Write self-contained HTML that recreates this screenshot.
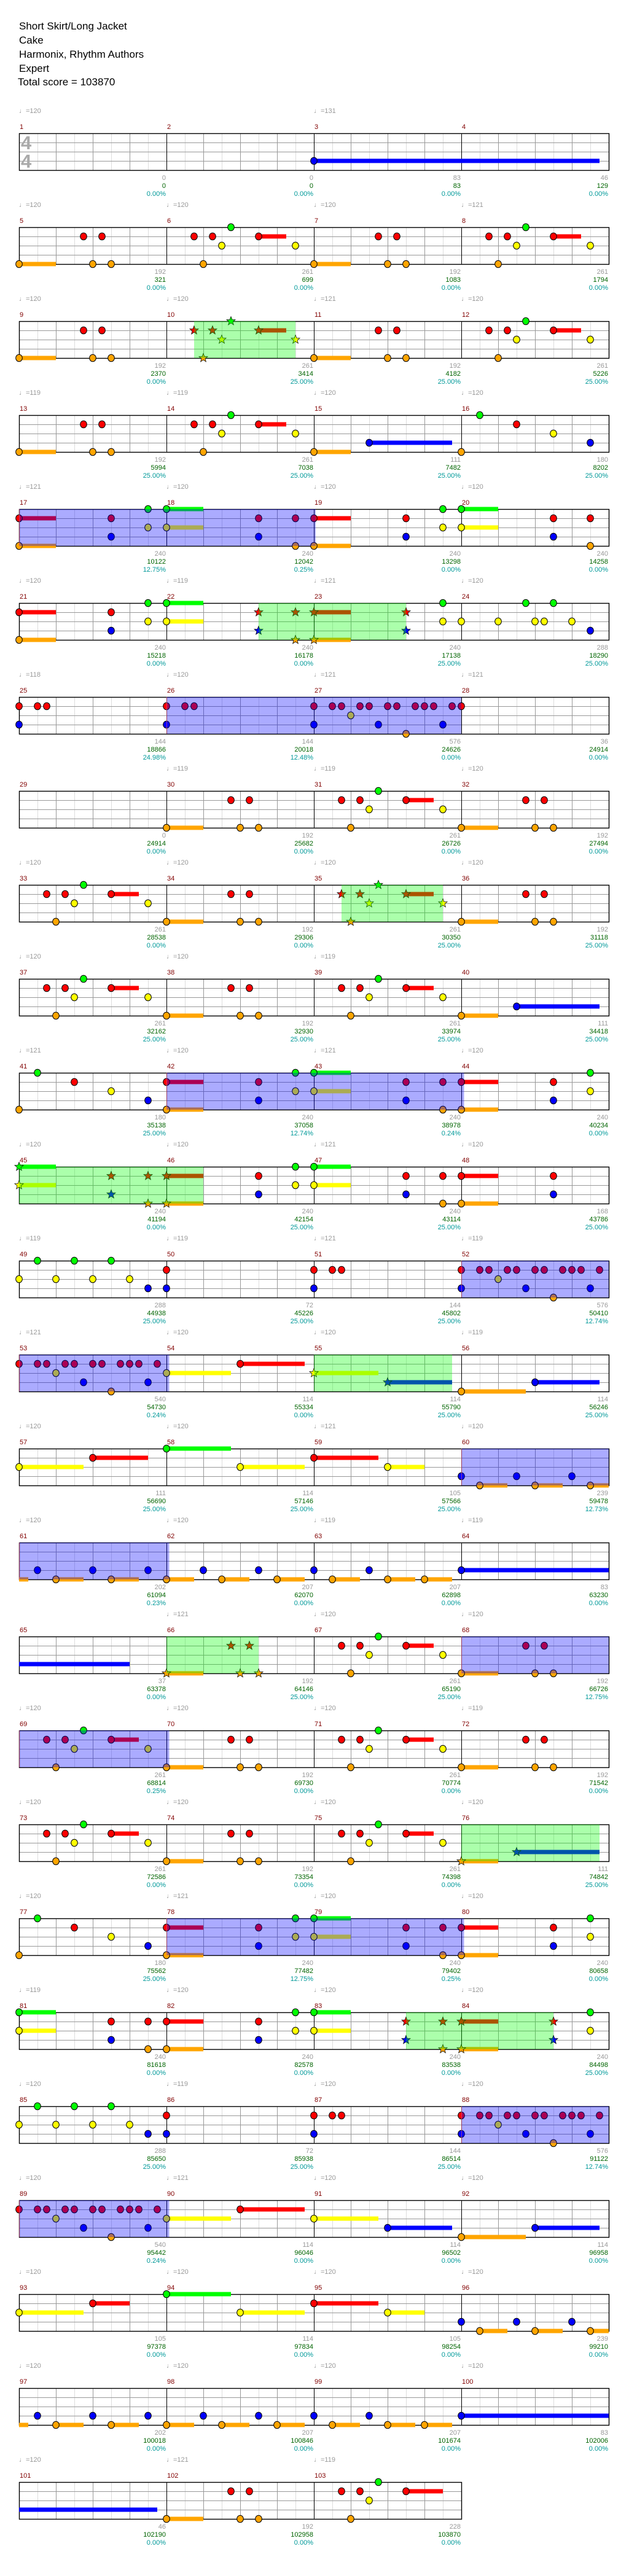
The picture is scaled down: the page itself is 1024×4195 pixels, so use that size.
<!DOCTYPE html>
<html><head><meta charset="utf-8">
<style>
html,body{margin:0;padding:0;background:#fff;}
svg{display:block;}
text{font-family:"Liberation Sans","DejaVu Sans",sans-serif;}
.ti{font-size:17px;fill:#000;}
.n{font-size:11px;fill:#800000;}
.t{font-size:11px;fill:#999;}
.a{font-size:11px;fill:#999;text-anchor:end;}
.s{font-size:11px;fill:#006400;text-anchor:end;}
.p{font-size:11px;fill:#009999;text-anchor:end;}
.ts{font-size:31px;font-weight:bold;fill:#aaa;}
</style></head>
<body>
<svg id="sv" xmlns="http://www.w3.org/2000/svg" width="1024" height="4195" viewBox="0 0 1024 4195">
<rect width="1024" height="4195" fill="#fff"/>
<g id="grid"></g><g id="bars"></g><g id="notes"></g><g id="ovl"></g>
<text class="ti" x="31" y="48">Short Skirt/Long Jacket</text>
<text class="ti" x="31" y="71">Cake</text>
<text class="ti" x="31" y="94">Harmonix, Rhythm Authors</text>
<text class="ti" x="31" y="117">Expert</text>
<text class="ti" x="29" y="139">Total score = 103870</text>
<text class="ts" x="34" y="243">4</text><text class="ts" x="34" y="273">4</text>

<g transform="translate(0,217)"><text class="n" x="32" y="-7">1</text><text class="n" x="272" y="-7">2</text><text class="n" x="512" y="-7">3</text><text class="n" x="752" y="-7">4</text>
<text class="t" x="31" y="-33">♩=120</text><text class="t" x="511" y="-33">♩=131</text>
<text class="a" x="270" y="76">0</text><text class="s" x="270" y="89">0</text><text class="p" x="270" y="102">0.00%</text>
<text class="a" x="510" y="76">0</text><text class="s" x="510" y="89">0</text><text class="p" x="510" y="102">0.00%</text>
<text class="a" x="750" y="76">83</text><text class="s" x="750" y="89">83</text><text class="p" x="750" y="102">0.00%</text>
<text class="a" x="990" y="76">46</text><text class="s" x="990" y="89">129</text><text class="p" x="990" y="102">0.00%</text></g>

<g transform="translate(0,370)"><text class="n" x="32" y="-7">5</text><text class="n" x="272" y="-7">6</text><text class="n" x="512" y="-7">7</text><text class="n" x="752" y="-7">8</text>
<text class="t" x="31" y="-33">♩=120</text><text class="t" x="271" y="-33">♩=120</text><text class="t" x="511" y="-33">♩=120</text><text class="t" x="751" y="-33">♩=121</text>
<text class="a" x="270" y="76">192</text><text class="s" x="270" y="89">321</text><text class="p" x="270" y="102">0.00%</text>
<text class="a" x="510" y="76">261</text><text class="s" x="510" y="89">699</text><text class="p" x="510" y="102">0.00%</text>
<text class="a" x="750" y="76">192</text><text class="s" x="750" y="89">1083</text><text class="p" x="750" y="102">0.00%</text>
<text class="a" x="990" y="76">261</text><text class="s" x="990" y="89">1794</text><text class="p" x="990" y="102">0.00%</text></g>

<g transform="translate(0,523)"><text class="n" x="32" y="-7">9</text><text class="n" x="272" y="-7">10</text><text class="n" x="512" y="-7">11</text><text class="n" x="752" y="-7">12</text>
<text class="t" x="31" y="-33">♩=120</text><text class="t" x="271" y="-33">♩=120</text><text class="t" x="511" y="-33">♩=121</text><text class="t" x="751" y="-33">♩=120</text>
<text class="a" x="270" y="76">192</text><text class="s" x="270" y="89">2370</text><text class="p" x="270" y="102">0.00%</text>
<text class="a" x="510" y="76">261</text><text class="s" x="510" y="89">3414</text><text class="p" x="510" y="102">25.00%</text>
<text class="a" x="750" y="76">192</text><text class="s" x="750" y="89">4182</text><text class="p" x="750" y="102">25.00%</text>
<text class="a" x="990" y="76">261</text><text class="s" x="990" y="89">5226</text><text class="p" x="990" y="102">25.00%</text></g>

<g transform="translate(0,676)"><text class="n" x="32" y="-7">13</text><text class="n" x="272" y="-7">14</text><text class="n" x="512" y="-7">15</text><text class="n" x="752" y="-7">16</text>
<text class="t" x="31" y="-33">♩=119</text><text class="t" x="271" y="-33">♩=119</text><text class="t" x="511" y="-33">♩=120</text><text class="t" x="751" y="-33">♩=120</text>
<text class="a" x="270" y="76">192</text><text class="s" x="270" y="89">5994</text><text class="p" x="270" y="102">25.00%</text>
<text class="a" x="510" y="76">261</text><text class="s" x="510" y="89">7038</text><text class="p" x="510" y="102">25.00%</text>
<text class="a" x="750" y="76">111</text><text class="s" x="750" y="89">7482</text><text class="p" x="750" y="102">25.00%</text>
<text class="a" x="990" y="76">180</text><text class="s" x="990" y="89">8202</text><text class="p" x="990" y="102">25.00%</text></g>

<g transform="translate(0,829)"><text class="n" x="32" y="-7">17</text><text class="n" x="272" y="-7">18</text><text class="n" x="512" y="-7">19</text><text class="n" x="752" y="-7">20</text>
<text class="t" x="31" y="-33">♩=121</text><text class="t" x="271" y="-33">♩=120</text><text class="t" x="511" y="-33">♩=120</text><text class="t" x="751" y="-33">♩=120</text>
<text class="a" x="270" y="76">240</text><text class="s" x="270" y="89">10122</text><text class="p" x="270" y="102">12.75%</text>
<text class="a" x="510" y="76">240</text><text class="s" x="510" y="89">12042</text><text class="p" x="510" y="102">0.25%</text>
<text class="a" x="750" y="76">240</text><text class="s" x="750" y="89">13298</text><text class="p" x="750" y="102">0.00%</text>
<text class="a" x="990" y="76">240</text><text class="s" x="990" y="89">14258</text><text class="p" x="990" y="102">0.00%</text></g>

<g transform="translate(0,982)"><text class="n" x="32" y="-7">21</text><text class="n" x="272" y="-7">22</text><text class="n" x="512" y="-7">23</text><text class="n" x="752" y="-7">24</text>
<text class="t" x="31" y="-33">♩=120</text><text class="t" x="271" y="-33">♩=119</text><text class="t" x="511" y="-33">♩=121</text><text class="t" x="751" y="-33">♩=120</text>
<text class="a" x="270" y="76">240</text><text class="s" x="270" y="89">15218</text><text class="p" x="270" y="102">0.00%</text>
<text class="a" x="510" y="76">240</text><text class="s" x="510" y="89">16178</text><text class="p" x="510" y="102">0.00%</text>
<text class="a" x="750" y="76">240</text><text class="s" x="750" y="89">17138</text><text class="p" x="750" y="102">25.00%</text>
<text class="a" x="990" y="76">288</text><text class="s" x="990" y="89">18290</text><text class="p" x="990" y="102">25.00%</text></g>

<g transform="translate(0,1135)"><text class="n" x="32" y="-7">25</text><text class="n" x="272" y="-7">26</text><text class="n" x="512" y="-7">27</text><text class="n" x="752" y="-7">28</text>
<text class="t" x="31" y="-33">♩=118</text><text class="t" x="271" y="-33">♩=120</text><text class="t" x="511" y="-33">♩=121</text><text class="t" x="751" y="-33">♩=121</text>
<text class="a" x="270" y="76">144</text><text class="s" x="270" y="89">18866</text><text class="p" x="270" y="102">24.98%</text>
<text class="a" x="510" y="76">144</text><text class="s" x="510" y="89">20018</text><text class="p" x="510" y="102">12.48%</text>
<text class="a" x="750" y="76">576</text><text class="s" x="750" y="89">24626</text><text class="p" x="750" y="102">0.00%</text>
<text class="a" x="990" y="76">36</text><text class="s" x="990" y="89">24914</text><text class="p" x="990" y="102">0.00%</text></g>

<g transform="translate(0,1288)"><text class="n" x="32" y="-7">29</text><text class="n" x="272" y="-7">30</text><text class="n" x="512" y="-7">31</text><text class="n" x="752" y="-7">32</text>
<text class="t" x="271" y="-33">♩=119</text><text class="t" x="511" y="-33">♩=119</text><text class="t" x="751" y="-33">♩=120</text>
<text class="a" x="270" y="76">0</text><text class="s" x="270" y="89">24914</text><text class="p" x="270" y="102">0.00%</text>
<text class="a" x="510" y="76">192</text><text class="s" x="510" y="89">25682</text><text class="p" x="510" y="102">0.00%</text>
<text class="a" x="750" y="76">261</text><text class="s" x="750" y="89">26726</text><text class="p" x="750" y="102">0.00%</text>
<text class="a" x="990" y="76">192</text><text class="s" x="990" y="89">27494</text><text class="p" x="990" y="102">0.00%</text></g>

<g transform="translate(0,1441)"><text class="n" x="32" y="-7">33</text><text class="n" x="272" y="-7">34</text><text class="n" x="512" y="-7">35</text><text class="n" x="752" y="-7">36</text>
<text class="t" x="31" y="-33">♩=120</text><text class="t" x="271" y="-33">♩=120</text><text class="t" x="511" y="-33">♩=120</text><text class="t" x="751" y="-33">♩=120</text>
<text class="a" x="270" y="76">261</text><text class="s" x="270" y="89">28538</text><text class="p" x="270" y="102">0.00%</text>
<text class="a" x="510" y="76">192</text><text class="s" x="510" y="89">29306</text><text class="p" x="510" y="102">0.00%</text>
<text class="a" x="750" y="76">261</text><text class="s" x="750" y="89">30350</text><text class="p" x="750" y="102">25.00%</text>
<text class="a" x="990" y="76">192</text><text class="s" x="990" y="89">31118</text><text class="p" x="990" y="102">25.00%</text></g>

<g transform="translate(0,1594)"><text class="n" x="32" y="-7">37</text><text class="n" x="272" y="-7">38</text><text class="n" x="512" y="-7">39</text><text class="n" x="752" y="-7">40</text>
<text class="t" x="31" y="-33">♩=120</text><text class="t" x="271" y="-33">♩=120</text><text class="t" x="511" y="-33">♩=119</text>
<text class="a" x="270" y="76">261</text><text class="s" x="270" y="89">32162</text><text class="p" x="270" y="102">25.00%</text>
<text class="a" x="510" y="76">192</text><text class="s" x="510" y="89">32930</text><text class="p" x="510" y="102">25.00%</text>
<text class="a" x="750" y="76">261</text><text class="s" x="750" y="89">33974</text><text class="p" x="750" y="102">25.00%</text>
<text class="a" x="990" y="76">111</text><text class="s" x="990" y="89">34418</text><text class="p" x="990" y="102">25.00%</text></g>

<g transform="translate(0,1747)"><text class="n" x="32" y="-7">41</text><text class="n" x="272" y="-7">42</text><text class="n" x="512" y="-7">43</text><text class="n" x="752" y="-7">44</text>
<text class="t" x="31" y="-33">♩=121</text><text class="t" x="271" y="-33">♩=120</text><text class="t" x="511" y="-33">♩=121</text><text class="t" x="751" y="-33">♩=120</text>
<text class="a" x="270" y="76">180</text><text class="s" x="270" y="89">35138</text><text class="p" x="270" y="102">25.00%</text>
<text class="a" x="510" y="76">240</text><text class="s" x="510" y="89">37058</text><text class="p" x="510" y="102">12.74%</text>
<text class="a" x="750" y="76">240</text><text class="s" x="750" y="89">38978</text><text class="p" x="750" y="102">0.24%</text>
<text class="a" x="990" y="76">240</text><text class="s" x="990" y="89">40234</text><text class="p" x="990" y="102">0.00%</text></g>

<g transform="translate(0,1900)"><text class="n" x="32" y="-7">45</text><text class="n" x="272" y="-7">46</text><text class="n" x="512" y="-7">47</text><text class="n" x="752" y="-7">48</text>
<text class="t" x="31" y="-33">♩=120</text><text class="t" x="271" y="-33">♩=120</text><text class="t" x="511" y="-33">♩=121</text><text class="t" x="751" y="-33">♩=120</text>
<text class="a" x="270" y="76">240</text><text class="s" x="270" y="89">41194</text><text class="p" x="270" y="102">0.00%</text>
<text class="a" x="510" y="76">240</text><text class="s" x="510" y="89">42154</text><text class="p" x="510" y="102">25.00%</text>
<text class="a" x="750" y="76">240</text><text class="s" x="750" y="89">43114</text><text class="p" x="750" y="102">25.00%</text>
<text class="a" x="990" y="76">168</text><text class="s" x="990" y="89">43786</text><text class="p" x="990" y="102">25.00%</text></g>

<g transform="translate(0,2053)"><text class="n" x="32" y="-7">49</text><text class="n" x="272" y="-7">50</text><text class="n" x="512" y="-7">51</text><text class="n" x="752" y="-7">52</text>
<text class="t" x="31" y="-33">♩=119</text><text class="t" x="271" y="-33">♩=119</text><text class="t" x="511" y="-33">♩=121</text><text class="t" x="751" y="-33">♩=119</text>
<text class="a" x="270" y="76">288</text><text class="s" x="270" y="89">44938</text><text class="p" x="270" y="102">25.00%</text>
<text class="a" x="510" y="76">72</text><text class="s" x="510" y="89">45226</text><text class="p" x="510" y="102">25.00%</text>
<text class="a" x="750" y="76">144</text><text class="s" x="750" y="89">45802</text><text class="p" x="750" y="102">25.00%</text>
<text class="a" x="990" y="76">576</text><text class="s" x="990" y="89">50410</text><text class="p" x="990" y="102">12.74%</text></g>

<g transform="translate(0,2206)"><text class="n" x="32" y="-7">53</text><text class="n" x="272" y="-7">54</text><text class="n" x="512" y="-7">55</text><text class="n" x="752" y="-7">56</text>
<text class="t" x="31" y="-33">♩=121</text><text class="t" x="271" y="-33">♩=120</text><text class="t" x="511" y="-33">♩=120</text><text class="t" x="751" y="-33">♩=119</text>
<text class="a" x="270" y="76">540</text><text class="s" x="270" y="89">54730</text><text class="p" x="270" y="102">0.24%</text>
<text class="a" x="510" y="76">114</text><text class="s" x="510" y="89">55334</text><text class="p" x="510" y="102">0.00%</text>
<text class="a" x="750" y="76">114</text><text class="s" x="750" y="89">55790</text><text class="p" x="750" y="102">25.00%</text>
<text class="a" x="990" y="76">114</text><text class="s" x="990" y="89">56246</text><text class="p" x="990" y="102">25.00%</text></g>

<g transform="translate(0,2359)"><text class="n" x="32" y="-7">57</text><text class="n" x="272" y="-7">58</text><text class="n" x="512" y="-7">59</text><text class="n" x="752" y="-7">60</text>
<text class="t" x="31" y="-33">♩=120</text><text class="t" x="271" y="-33">♩=120</text><text class="t" x="511" y="-33">♩=121</text><text class="t" x="751" y="-33">♩=120</text>
<text class="a" x="270" y="76">111</text><text class="s" x="270" y="89">56690</text><text class="p" x="270" y="102">25.00%</text>
<text class="a" x="510" y="76">114</text><text class="s" x="510" y="89">57146</text><text class="p" x="510" y="102">25.00%</text>
<text class="a" x="750" y="76">105</text><text class="s" x="750" y="89">57566</text><text class="p" x="750" y="102">25.00%</text>
<text class="a" x="990" y="76">239</text><text class="s" x="990" y="89">59478</text><text class="p" x="990" y="102">12.73%</text></g>

<g transform="translate(0,2512)"><text class="n" x="32" y="-7">61</text><text class="n" x="272" y="-7">62</text><text class="n" x="512" y="-7">63</text><text class="n" x="752" y="-7">64</text>
<text class="t" x="31" y="-33">♩=120</text><text class="t" x="271" y="-33">♩=120</text><text class="t" x="511" y="-33">♩=119</text><text class="t" x="751" y="-33">♩=119</text>
<text class="a" x="270" y="76">202</text><text class="s" x="270" y="89">61094</text><text class="p" x="270" y="102">0.23%</text>
<text class="a" x="510" y="76">207</text><text class="s" x="510" y="89">62070</text><text class="p" x="510" y="102">0.00%</text>
<text class="a" x="750" y="76">207</text><text class="s" x="750" y="89">62898</text><text class="p" x="750" y="102">0.00%</text>
<text class="a" x="990" y="76">83</text><text class="s" x="990" y="89">63230</text><text class="p" x="990" y="102">0.00%</text></g>

<g transform="translate(0,2665)"><text class="n" x="32" y="-7">65</text><text class="n" x="272" y="-7">66</text><text class="n" x="512" y="-7">67</text><text class="n" x="752" y="-7">68</text>
<text class="t" x="271" y="-33">♩=121</text><text class="t" x="511" y="-33">♩=120</text><text class="t" x="751" y="-33">♩=120</text>
<text class="a" x="270" y="76">37</text><text class="s" x="270" y="89">63378</text><text class="p" x="270" y="102">0.00%</text>
<text class="a" x="510" y="76">192</text><text class="s" x="510" y="89">64146</text><text class="p" x="510" y="102">25.00%</text>
<text class="a" x="750" y="76">261</text><text class="s" x="750" y="89">65190</text><text class="p" x="750" y="102">25.00%</text>
<text class="a" x="990" y="76">192</text><text class="s" x="990" y="89">66726</text><text class="p" x="990" y="102">12.75%</text></g>

<g transform="translate(0,2818)"><text class="n" x="32" y="-7">69</text><text class="n" x="272" y="-7">70</text><text class="n" x="512" y="-7">71</text><text class="n" x="752" y="-7">72</text>
<text class="t" x="31" y="-33">♩=120</text><text class="t" x="271" y="-33">♩=120</text><text class="t" x="511" y="-33">♩=120</text><text class="t" x="751" y="-33">♩=119</text>
<text class="a" x="270" y="76">261</text><text class="s" x="270" y="89">68814</text><text class="p" x="270" y="102">0.25%</text>
<text class="a" x="510" y="76">192</text><text class="s" x="510" y="89">69730</text><text class="p" x="510" y="102">0.00%</text>
<text class="a" x="750" y="76">261</text><text class="s" x="750" y="89">70774</text><text class="p" x="750" y="102">0.00%</text>
<text class="a" x="990" y="76">192</text><text class="s" x="990" y="89">71542</text><text class="p" x="990" y="102">0.00%</text></g>

<g transform="translate(0,2971)"><text class="n" x="32" y="-7">73</text><text class="n" x="272" y="-7">74</text><text class="n" x="512" y="-7">75</text><text class="n" x="752" y="-7">76</text>
<text class="t" x="31" y="-33">♩=120</text><text class="t" x="271" y="-33">♩=120</text><text class="t" x="511" y="-33">♩=120</text><text class="t" x="751" y="-33">♩=120</text>
<text class="a" x="270" y="76">261</text><text class="s" x="270" y="89">72586</text><text class="p" x="270" y="102">0.00%</text>
<text class="a" x="510" y="76">192</text><text class="s" x="510" y="89">73354</text><text class="p" x="510" y="102">0.00%</text>
<text class="a" x="750" y="76">261</text><text class="s" x="750" y="89">74398</text><text class="p" x="750" y="102">0.00%</text>
<text class="a" x="990" y="76">111</text><text class="s" x="990" y="89">74842</text><text class="p" x="990" y="102">25.00%</text></g>

<g transform="translate(0,3124)"><text class="n" x="32" y="-7">77</text><text class="n" x="272" y="-7">78</text><text class="n" x="512" y="-7">79</text><text class="n" x="752" y="-7">80</text>
<text class="t" x="31" y="-33">♩=120</text><text class="t" x="271" y="-33">♩=121</text><text class="t" x="511" y="-33">♩=120</text><text class="t" x="751" y="-33">♩=120</text>
<text class="a" x="270" y="76">180</text><text class="s" x="270" y="89">75562</text><text class="p" x="270" y="102">25.00%</text>
<text class="a" x="510" y="76">240</text><text class="s" x="510" y="89">77482</text><text class="p" x="510" y="102">12.75%</text>
<text class="a" x="750" y="76">240</text><text class="s" x="750" y="89">79402</text><text class="p" x="750" y="102">0.25%</text>
<text class="a" x="990" y="76">240</text><text class="s" x="990" y="89">80658</text><text class="p" x="990" y="102">0.00%</text></g>

<g transform="translate(0,3277)"><text class="n" x="32" y="-7">81</text><text class="n" x="272" y="-7">82</text><text class="n" x="512" y="-7">83</text><text class="n" x="752" y="-7">84</text>
<text class="t" x="31" y="-33">♩=119</text><text class="t" x="271" y="-33">♩=120</text><text class="t" x="511" y="-33">♩=120</text><text class="t" x="751" y="-33">♩=120</text>
<text class="a" x="270" y="76">240</text><text class="s" x="270" y="89">81618</text><text class="p" x="270" y="102">0.00%</text>
<text class="a" x="510" y="76">240</text><text class="s" x="510" y="89">82578</text><text class="p" x="510" y="102">0.00%</text>
<text class="a" x="750" y="76">240</text><text class="s" x="750" y="89">83538</text><text class="p" x="750" y="102">0.00%</text>
<text class="a" x="990" y="76">240</text><text class="s" x="990" y="89">84498</text><text class="p" x="990" y="102">25.00%</text></g>

<g transform="translate(0,3430)"><text class="n" x="32" y="-7">85</text><text class="n" x="272" y="-7">86</text><text class="n" x="512" y="-7">87</text><text class="n" x="752" y="-7">88</text>
<text class="t" x="31" y="-33">♩=120</text><text class="t" x="271" y="-33">♩=119</text><text class="t" x="511" y="-33">♩=120</text><text class="t" x="751" y="-33">♩=120</text>
<text class="a" x="270" y="76">288</text><text class="s" x="270" y="89">85650</text><text class="p" x="270" y="102">25.00%</text>
<text class="a" x="510" y="76">72</text><text class="s" x="510" y="89">85938</text><text class="p" x="510" y="102">25.00%</text>
<text class="a" x="750" y="76">144</text><text class="s" x="750" y="89">86514</text><text class="p" x="750" y="102">25.00%</text>
<text class="a" x="990" y="76">576</text><text class="s" x="990" y="89">91122</text><text class="p" x="990" y="102">12.74%</text></g>

<g transform="translate(0,3583)"><text class="n" x="32" y="-7">89</text><text class="n" x="272" y="-7">90</text><text class="n" x="512" y="-7">91</text><text class="n" x="752" y="-7">92</text>
<text class="t" x="31" y="-33">♩=120</text><text class="t" x="271" y="-33">♩=121</text><text class="t" x="511" y="-33">♩=120</text><text class="t" x="751" y="-33">♩=120</text>
<text class="a" x="270" y="76">540</text><text class="s" x="270" y="89">95442</text><text class="p" x="270" y="102">0.24%</text>
<text class="a" x="510" y="76">114</text><text class="s" x="510" y="89">96046</text><text class="p" x="510" y="102">0.00%</text>
<text class="a" x="750" y="76">114</text><text class="s" x="750" y="89">96502</text><text class="p" x="750" y="102">0.00%</text>
<text class="a" x="990" y="76">114</text><text class="s" x="990" y="89">96958</text><text class="p" x="990" y="102">0.00%</text></g>

<g transform="translate(0,3736)"><text class="n" x="32" y="-7">93</text><text class="n" x="272" y="-7">94</text><text class="n" x="512" y="-7">95</text><text class="n" x="752" y="-7">96</text>
<text class="t" x="31" y="-33">♩=120</text><text class="t" x="271" y="-33">♩=120</text><text class="t" x="511" y="-33">♩=120</text><text class="t" x="751" y="-33">♩=120</text>
<text class="a" x="270" y="76">105</text><text class="s" x="270" y="89">97378</text><text class="p" x="270" y="102">0.00%</text>
<text class="a" x="510" y="76">114</text><text class="s" x="510" y="89">97834</text><text class="p" x="510" y="102">0.00%</text>
<text class="a" x="750" y="76">105</text><text class="s" x="750" y="89">98254</text><text class="p" x="750" y="102">0.00%</text>
<text class="a" x="990" y="76">239</text><text class="s" x="990" y="89">99210</text><text class="p" x="990" y="102">0.00%</text></g>

<g transform="translate(0,3889)"><text class="n" x="32" y="-7">97</text><text class="n" x="272" y="-7">98</text><text class="n" x="512" y="-7">99</text><text class="n" x="752" y="-7">100</text>
<text class="t" x="31" y="-33">♩=120</text><text class="t" x="271" y="-33">♩=120</text><text class="t" x="511" y="-33">♩=120</text><text class="t" x="751" y="-33">♩=120</text>
<text class="a" x="270" y="76">202</text><text class="s" x="270" y="89">100018</text><text class="p" x="270" y="102">0.00%</text>
<text class="a" x="510" y="76">207</text><text class="s" x="510" y="89">100846</text><text class="p" x="510" y="102">0.00%</text>
<text class="a" x="750" y="76">207</text><text class="s" x="750" y="89">101674</text><text class="p" x="750" y="102">0.00%</text>
<text class="a" x="990" y="76">83</text><text class="s" x="990" y="89">102006</text><text class="p" x="990" y="102">0.00%</text></g>

<g transform="translate(0,4042)"><text class="n" x="32" y="-7">101</text><text class="n" x="272" y="-7">102</text><text class="n" x="512" y="-7">103</text>
<text class="t" x="31" y="-33">♩=120</text><text class="t" x="271" y="-33">♩=121</text><text class="t" x="511" y="-33">♩=119</text>
<text class="a" x="270" y="76">46</text><text class="s" x="270" y="89">102190</text><text class="p" x="270" y="102">0.00%</text>
<text class="a" x="510" y="76">192</text><text class="s" x="510" y="89">102958</text><text class="p" x="510" y="102">0.00%</text>
<text class="a" x="750" y="76">228</text><text class="s" x="750" y="89">103870</text><text class="p" x="750" y="102">0.00%</text></g>
</svg>
<script>
(function(){
var NS="http://www.w3.org/2000/svg";
function el(par,tag,at){var e=document.createElementNS(NS,tag);for(var k in at)e.setAttribute(k,at[k]);par.appendChild(e);return e;}
function A(s){return "o"+s+"L4 r"+(s+7)+" r"+(s+9)+" o"+(s+8)+" o"+(s+10);}
function B(s){return "r"+(s+3)+" r"+(s+5)+" o"+(s+4)+" y"+(s+6)+" g"+(s+7)+" r"+(s+10)+"L3 y"+(s+14);}
function S(str){return str.split(" ").map(function(t){return "*"+t;}).join(" ");}
var R41="o0 g2 r6 y10 b14 r16L4 o16L4 r26 b26 g30 y30 g32L4 y32L4 r42 b42 r46 o46 r48L4 o48L4 r58 b58 g62 y62";
var R49="g2 g6 g10 y0 y4 y8 y12 b14 r16 b16 r32 b32 r34 r35 r48 b48 r50 r51 r53 r54 r56 r57 r59 r60 r61 r63 y52 b55 b62 o58";
var R53a="r0 r2 r3 r5 r6 r8 r9 r11 r12 r13 r15 y4 b7 b14 o10 y16L7 r24L7";
var R61="O0L1 b2 b8 b14 o4L3 o10L3 o16L3 b20 o22L3 b26 o28L3 b32 o34L3 b38 o40L3 o44L3 b48L16";
var rows=[
 {n:"b32L31"},
 {n:[A(0),B(16),A(32),B(48)].join(" ")},
 {n:[A(0),S(B(16)),A(32),B(48)].join(" "),ov:[["g",19,30]]},
 {n:[A(0),B(16),"o32L4 b38L9 o48 g50 r54 y58 b62"].join(" ")},
 {n:"r0L4 o0L4 r10 b10 g14 y14 g16L4 y16L4 r26 b26 r30 o30 r32L4 o32L4 r42 b42 g46 y46 g48L4 y48L4 r58 b58 r62 o62",ov:[["b",0,32.2]]},
 {n:"r0L4 o0L4 r10 b10 g14 y14 g16L4 y16L4 "+S("r26 b26 r30 o30 r32L4 o32L4 r42 b42")+" g46 y46 y48 y52 g55 y56 y57 g58 y60 b62",ov:[["g",26,42]]},
 {n:"r0 b0 r2 r3 r16 b16 r18 r19 r32 b32 r34 r35 y36 r37 r38 b39 r40 r41 o42 r43 r44 r45 b46 r47 r48",ov:[["b",16,48]]},
 {n:[A(16),B(32),A(48)].join(" ")},
 {n:[B(0),A(16),S(B(32)),A(48)].join(" "),ov:[["g",35,46]]},
 {n:[B(0),A(16),B(32),"o48L4 b54L9"].join(" ")},
 {n:R41,ov:[["b",16,48.3]]},
 {n:S("g0L4 y0L4 r10 b10 r14 o14 r16L4 o16L4")+" r26 b26 g30 y30 g32L4 y32L4 r42 b42 r46 o46 r48L4 o48L4 r58 b58",ov:[["g",0,20]]},
 {n:R49,ov:[["b",48,64]]},
 {n:R53a+" "+S("y32L7 b40L7")+" o48L7 b56L7",ov:[["b",0,16.3],["g",32,47]]},
 {n:"y0L7 r8L6 g16L7 y24L7 r32L7 y40L4 b48 b54 b60 o50L3 o56L3 o62L2",ov:[["b",48,64]]},
 {n:R61,ov:[["b",0,16.3]]},
 {n:"B0L12 "+S("o16L4 r23 r25 o24 o26")+" "+B(32)+" "+A(48),ov:[["g",16,26],["b",48,64]]},
 {n:[B(0),A(16),B(32),A(48)].join(" "),ov:[["b",0,16.3]]},
 {n:[B(0),A(16),B(32),S("o48L4 b54L9")].join(" "),ov:[["g",48,63]]},
 {n:R41,ov:[["b",16,48.3]]},
 {n:"g0L4 y0L4 r10 b10 r14 o14 r16L4 o16L4 r26 b26 g30 y30 g32L4 y32L4 "+S("r42 b42 r46 o46 r48L4 o48L4 r58 b58")+" g62 y62",ov:[["g",42,58]]},
 {n:R49,ov:[["b",48,64]]},
 {n:R53a+" y32L7 b40L7 o48L7 b56L7",ov:[["b",0,16.3]]},
 {n:"y0L7 r8L4 g16L7 y24L7 r32L7 y40L4 b48 b54 b60 o50L3 o56L3 o62L2"},
 {n:R61.replace(" b48L16"," b48L16")},
 {n:"B0L15 "+A(16)+" r35 r37 g39 y38 o36 r42L4"}
];
var COL={g:"#00ff00",r:"#ff0000",y:"#ffff00",b:"#0000ff",o:"#ffa500"};
var LANE={g:0,r:1,y:2,b:3,o:4};
var G=document.getElementById("grid"),BR=document.getElementById("bars"),NT=document.getElementById("notes"),OV=document.getElementById("ovl");
function star(cx,cy,r,fill){var pts=[];for(var i=0;i<10;i++){var a=-Math.PI/2+i*Math.PI/5;var rr=i%2?r*0.42:r;pts.push((cx+rr*Math.cos(a)).toFixed(1)+","+(cy+rr*Math.sin(a)).toFixed(1));}
 el(NT,"polygon",{points:pts.join(" "),fill:fill,stroke:"#000","stroke-width":"0.7"});}
rows.forEach(function(row,k){
 var T=217+153*k, nm=(k==25)?3:4, W=nm*240, X0=31;
 el(G,"rect",{x:X0,y:T,width:W,height:60,fill:"#fff"});
 for(var p=2;p<nm*16;p+=2){ if(p%4) el(G,"line",{x1:X0+p*15+.5,y1:T,x2:X0+p*15+.5,y2:T+60,stroke:"#dddddd","stroke-width":1}); }
 for(var l=1;l<4;l++) el(G,"line",{x1:X0,y1:T+l*15+.5,x2:X0+W,y2:T+l*15+.5,stroke:"#999","stroke-width":1});
 for(var p=4;p<nm*16;p+=4){ if(p%16) el(G,"line",{x1:X0+p*15+.5,y1:T,x2:X0+p*15+.5,y2:T+60,stroke:"#999","stroke-width":1}); }
 for(var m=1;m<nm;m++) el(G,"line",{x1:X0+m*240+.5,y1:T,x2:X0+m*240+.5,y2:T+60,stroke:"#000","stroke-width":1});
 el(G,"rect",{x:X0+.5,y:T+.5,width:W,height:60,fill:"none",stroke:"#000","stroke-width":1.4});
 row.n.split(" ").forEach(function(t){
  var m=t.match(/^(\*?)([gryboGRYBO])(-?\d+)(?:L(\d+))?$/); if(!m)return;
  var st=m[1]=="*", lc=m[2], bar=(lc!=lc.toLowerCase()); lc=lc.toLowerCase();
  var p=+m[3], L=m[4]?+m[4]:0, x=X0+p*15, y=T+LANE[lc]*15;
  if(L>0) el(BR,"rect",{x:x,y:y-3.5,width:Math.min(L*15,X0+W-x),height:7,fill:COL[lc]});
  if(bar) return;
  if(st) star(x,y,7.5,COL[lc]);
  else el(NT,"ellipse",{cx:x,cy:y,rx:5.3,ry:5.8,fill:COL[lc],stroke:"#000","stroke-width":1});
 });
 (row.ov||[]).forEach(function(o){
  var x1=X0+o[1]*15, x2=X0+o[2]*15;
  el(OV,"rect",{x:x1,y:T,width:x2-x1,height:60,fill:o[0]=="b"?"#0000ff":"#00ff00","fill-opacity":"0.33"});
  if(o[0]=="b") el(OV,"line",{x1:x1+.5,y1:T,x2:x1+.5,y2:T+60,stroke:"#ff6060","stroke-opacity":"0.6"});
 });
});
})();
</script>
</body></html>
